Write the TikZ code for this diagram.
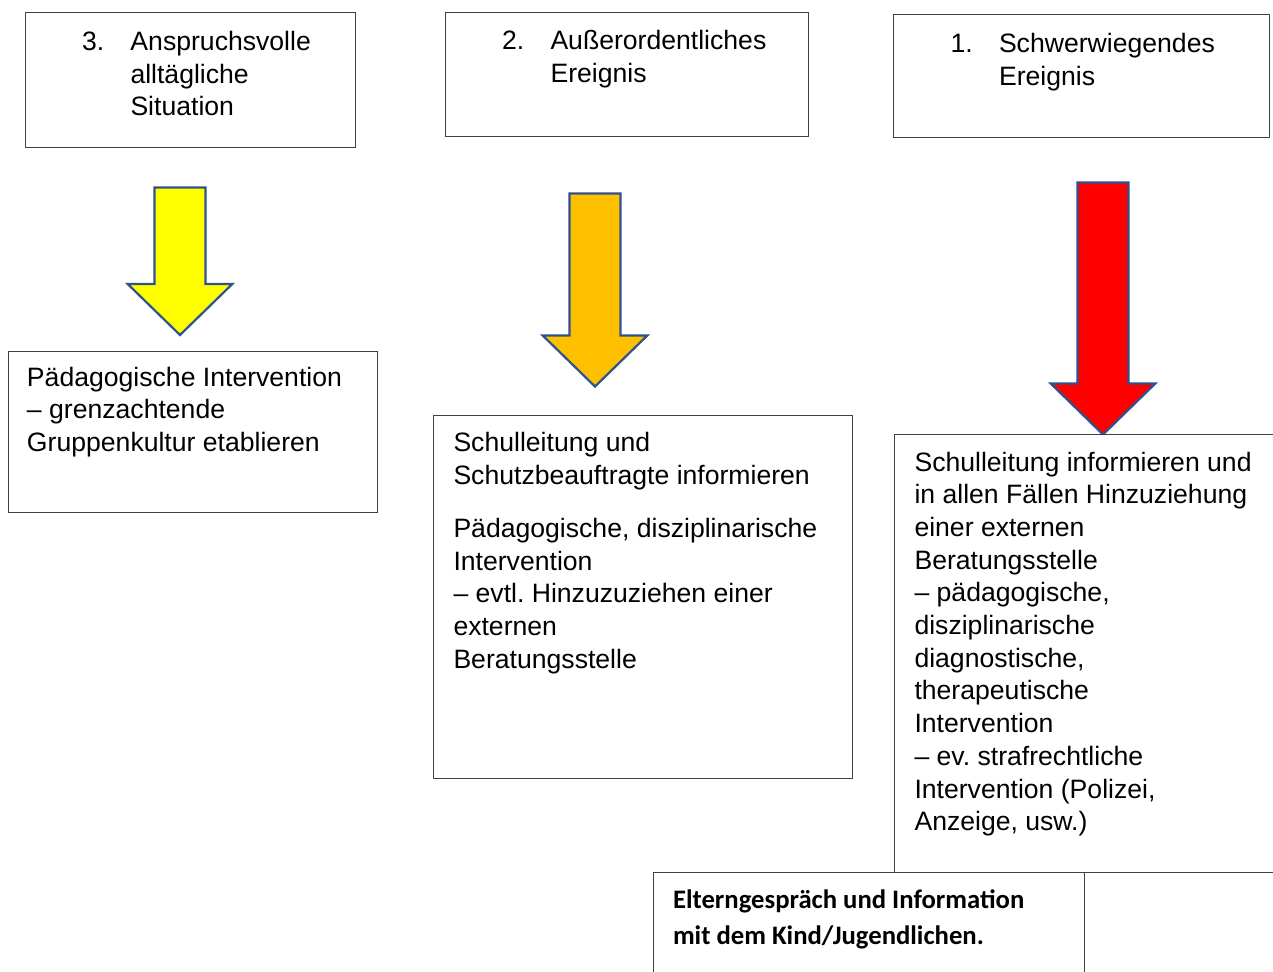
\documentclass[tikz,border=0pt]{standalone}
\usepackage{fontspec}
\setmainfont{Liberation Sans}
\newfontfamily\calibrifont{Carlito}
\frenchspacing
\definecolor{arrowblue}{HTML}{2F528F}
\definecolor{boxline}{HTML}{404040}
\definecolor{arrowyellow}{HTML}{FFFF00}
\definecolor{arroworange}{HTML}{FFC000}
\definecolor{arrowred}{HTML}{FF0000}
\newcommand\tlines[2]{\vtop{\baselineskip=#1\lineskiplimit=-100pt\lineskip=0pt #2}}
\newcommand\numline[2]{\hbox{\hbox to 48.5pt{#1\hfil}#2}}
\newcommand\indline[1]{\hbox{\hskip48.5pt #1}}
\newcommand\drawblockarrow[5]{%
  \draw[blockarrow, fill=#1] ({#2-25.5},#3) -- ({#2+25.5},#3) -- ({#2+25.5},#4)
    -- ({#2+52.3},#4) -- (#2,#5) -- ({#2-52.3},#4) -- ({#2-25.5},#4) -- cycle;}
\tikzset{
  box/.style={draw=boxline, line width=0.9pt, fill=white, rectangle,
    anchor=north west, inner sep=0pt, outer sep=0pt},
  blockarrow/.style={draw=arrowblue, line width=2.2pt, line join=miter},
  txt/.style={anchor=base west, inner sep=0pt, outer sep=0pt,
    font=\frenchspacing\fontsize{26.6pt}{32.6pt}\selectfont},
  boldtxt/.style={anchor=base west, inner sep=0pt, outer sep=0pt,
    font=\frenchspacing\calibrifont\bfseries\fontsize{26.7pt}{36.5pt}\selectfont},
}
\begin{document}
\begin{tikzpicture}[x=1pt, y=-1pt]
\useasboundingbox (0,0) rectangle (1273,971);
\fill[white] (0,0) rectangle (1273,971);
\clip (0,0) rectangle (1273,971);

% top boxes
\node[box, minimum width=330pt, minimum height=135pt] (b3) at (25,12) {};
\node[box, minimum width=363pt, minimum height=124pt] (b2) at (445,12) {};
\node[box, minimum width=376pt, minimum height=123.5pt] (b1) at (893.5,14) {};

\node[txt] (t3) at (82,51) {\tlines{32.3pt}{\numline{3.}{Anspruchsvolle}\indline{alltägliche}\indline{Situation}}};
\node[txt] (t2) at (502,50) {\tlines{32.3pt}{\numline{2.}{Außerordentliches}\indline{Ereignis}}};
\node[txt] (t1) at (950.5,53) {\tlines{32.3pt}{\numline{1.}{Schwerwiegendes}\indline{Ereignis}}};

% block arrows
\drawblockarrow{arrowyellow}{180}{187.5}{284}{335}
\drawblockarrow{arroworange}{595}{193.5}{335.5}{386.5}
\drawblockarrow{arrowred}{1103}{182.5}{383.5}{434.5}

% lower boxes
\node[box, minimum width=369.5pt, minimum height=161pt] (i3) at (8.3,351.7) {};
\node[box, minimum width=419.5pt, minimum height=363pt] (i2) at (433.3,415.7) {};
\node[box, minimum width=400pt, minimum height=438.5pt] (i1) at (894.7,434.3) {};

\node[txt] (u3) at (27,386) {\tlines{32.5pt}{\hbox{Pädagogische Intervention}\hbox{– grenzachtende}\hbox{Gruppenkultur etablieren}}};
\node[txt] (u2) at (453.5,451.7) {\tlines{32.6pt}{\hbox{Schulleitung und}\hbox{Schutzbeauftragte informieren}\vskip20.7pt
  \hbox{Pädagogische, disziplinarische}\hbox{Intervention}\hbox{– evtl. Hinzuzuziehen einer}\hbox{externen}\hbox{Beratungsstelle}}};
\node[txt] (u1) at (914.5,471) {\tlines{32.7pt}{\hbox{Schulleitung informieren und}\hbox{in allen Fällen Hinzuziehung}\hbox{einer externen}\hbox{Beratungsstelle}\hbox{– pädagogische,}\hbox{disziplinarische}\hbox{diagnostische,}\hbox{therapeutische}\hbox{Intervention}\hbox{– ev. strafrechtliche}\hbox{Intervention (Polizei,}\hbox{Anzeige, usw.)}}};

% bottom box
\node[box, minimum width=431pt, minimum height=130pt] (e) at (653.5,872.3) {};
\node[boldtxt] (et) at (673,908) {\tlines{36.5pt}{\hbox{Elterngespräch und Information}\hbox{mit dem Kind/Jugendlichen.}}};
\end{tikzpicture}
\end{document}
